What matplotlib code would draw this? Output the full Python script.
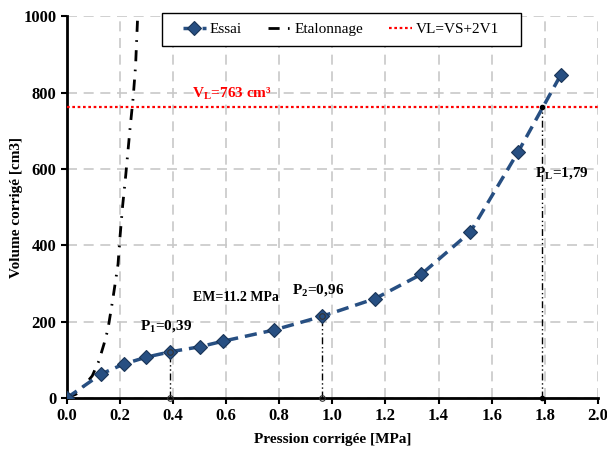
import numpy as np
import matplotlib
matplotlib.use('Agg')
import matplotlib.pyplot as plt
from matplotlib.ticker import FormatStrFormatter
from matplotlib.patches import Rectangle

plt.rcParams['font.family'] = ['Liberation Serif', 'DejaVu Serif']
plt.rcParams['mathtext.fontset'] = 'custom'
plt.rcParams['mathtext.rm'] = 'Liberation Serif'
plt.rcParams['mathtext.bf'] = 'Liberation Serif:bold'

# essai pressiometrique
essai_p = [0, 0.13, 0.215, 0.30, 0.39, 0.50, 0.59, 0.78, 0.962, 1.16, 1.335, 1.52, 1.70, 1.86]
essai_v = [0, 63, 89, 107, 121, 134, 149, 178, 214, 260, 324, 435, 645, 846]

# courbe d'etalonnage
etal_p = [0, 0.035, 0.065, 0.096, 0.121, 0.14, 0.155, 0.173, 0.193, 0.200, 0.210, 0.222, 0.238, 0.250, 0.259, 0.267]
etal_v = [0, 10, 32, 58, 97, 141, 180, 257, 350, 418, 501, 583, 704, 787, 869, 1000]

VL = 763
P1, V1 = 0.39, 121
P2, V2 = 0.962, 214
PL = 1.79

blue = '#274F82'

fig = plt.figure(figsize=(6.07, 4.5), dpi=100)
ax = fig.add_axes([0.110, 0.1156, 0.875, 0.8484])

ax.set_xlim(0, 2.0)
ax.set_ylim(0, 1000)
ax.set_xticks(np.arange(0, 2.01, 0.2))
ax.set_yticks(np.arange(0, 1001, 200))
ax.xaxis.set_major_formatter(FormatStrFormatter('%.1f'))
ax.grid(True, color='#c8c8c8', linestyle=(0, (6, 4)), linewidth=1.2)
ax.set_axisbelow(True)

for s in ['top', 'right']:
    ax.spines[s].set_visible(False)
for s in ['left', 'bottom']:
    ax.spines[s].set_linewidth(2)
ax.tick_params(direction='out', length=4, width=1.5, labelsize=12)
for lab in ax.get_xticklabels() + ax.get_yticklabels():
    lab.set_fontweight('bold')

# lignes verticales P1, P2, PL
vstyle = (0, (5, 2, 1, 2, 1, 2))
for p, v in [(P1, V1), (P2, V2), (PL, VL)]:
    ax.plot([p, p], [0, v], color='black', lw=1, linestyle=vstyle, zorder=3)

ax.axhline(VL, color='red', linestyle=(0, (1.2, 1.2)), lw=1.6, zorder=3, label='VL=VS+2V1')

ax.plot(etal_p, etal_v, color='black', lw=2, linestyle=(0, (4, 3, 0.6, 3)), zorder=4, label='Etalonnage')
ax.plot(essai_p, essai_v, color=blue, lw=2.5, linestyle=(0, (3.5, 2)), marker='D', markersize=7,
        markerfacecolor=blue, markeredgecolor='#1a3557', markeredgewidth=0.8, zorder=5, label='Essai')

ax.plot([P1, P2, P1, P2], [V1, V2, 0, 0], linestyle='none', marker='o', markersize=4,
        markerfacecolor='none', markeredgecolor='#333333', markeredgewidth=0.8, zorder=6, clip_on=False)
ax.plot([PL, PL], [VL, 0], linestyle='none', marker='o', markersize=3, color='black', zorder=6, clip_on=False)

ax.set_xlabel('Pression corrigée [MPa]', fontsize=11, fontweight='bold', labelpad=6)
ax.set_ylabel('Volume corrigé [cm3]', fontsize=11, fontweight='bold', labelpad=0)

tkw = dict(fontsize=11, fontweight='bold', va='center', ha='left')
ax.text(0.275, 187, r'P$_\mathbf{1}$=0,39', **tkw)
ax.text(0.475, 264, 'EM=11.2 MPa', fontsize=10, fontweight='bold', va='center', ha='left')
ax.text(0.85, 282, r'P$_\mathbf{2}$=0,96', **tkw)
ax.text(1.765, 587, r'P$_\mathbf{L}$=1,79', **tkw)
ax.text(0.473, 796, r'V$_\mathbf{L}$=763 cm³', color='red', **tkw)

h, l = ax.get_legend_handles_labels()
order = [2, 1, 0]
leg = ax.legend([h[i] for i in order], [l[i] for i in order], ncol=3, loc='center',
                bbox_to_anchor=(0.516, 0.965), fontsize=11, frameon=False,
                handlelength=1.5, columnspacing=1.7, handletextpad=0.25)
leg.set_zorder(10)

# cadre de la legende
ax.add_patch(Rectangle((162 / 607, 1 - 46 / 450), (521 - 162) / 607, 33 / 450,
                       transform=fig.transFigure, facecolor='white', edgecolor='black',
                       lw=1, zorder=9, clip_on=False))

fig.savefig('out.png', dpi=100)
